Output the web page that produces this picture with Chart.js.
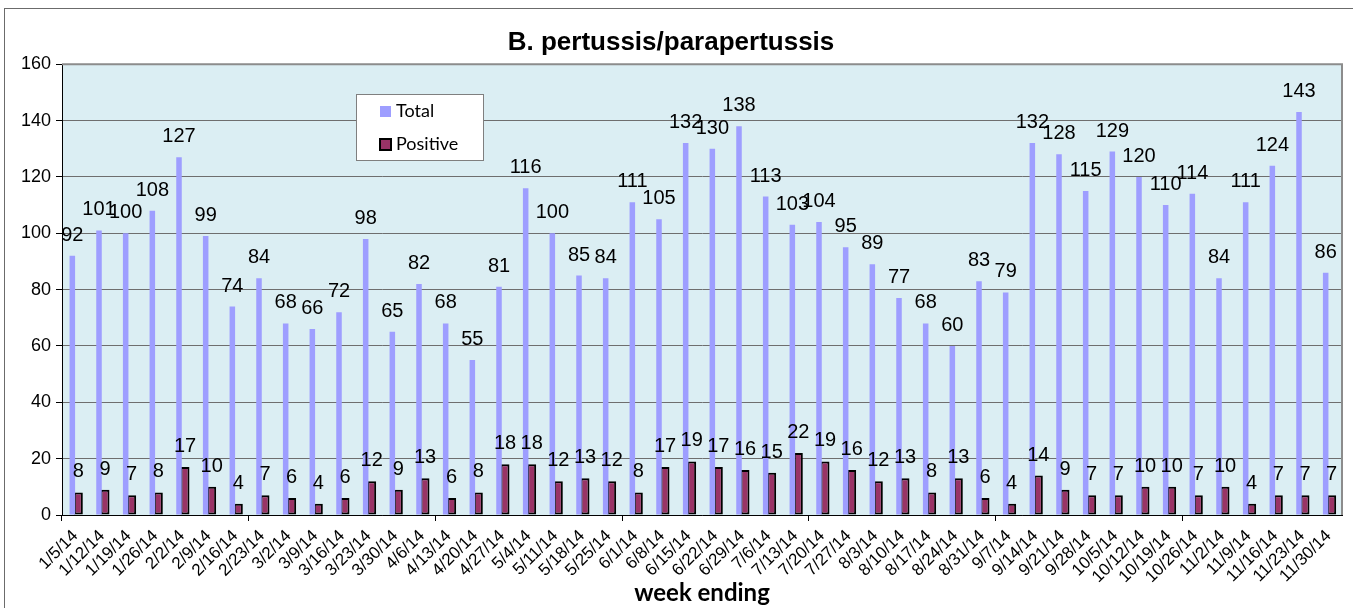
<!DOCTYPE html>
<html>
<head>
<meta charset="utf-8">
<script src="https://cdn.jsdelivr.net/npm/chart.js@4"></script>
<style>
  html, body { margin: 0; padding: 0; background: #fff; }
  canvas { display: block; }
</style>
</head>
<body>
<canvas id="chart" width="1353" height="608"></canvas>
<script>
var weeks = ['1/5/14', '1/12/14', '1/19/14', '1/26/14', '2/2/14', '2/9/14', '2/16/14', '2/23/14',
    '3/2/14', '3/9/14', '3/16/14', '3/23/14', '3/30/14', '4/6/14', '4/13/14', '4/20/14', '4/27/14',
    '5/4/14', '5/11/14', '5/18/14', '5/25/14', '6/1/14', '6/8/14', '6/15/14', '6/22/14', '6/29/14',
    '7/6/14', '7/13/14', '7/20/14', '7/27/14', '8/3/14', '8/10/14', '8/17/14', '8/24/14', '8/31/14',
    '9/7/14', '9/14/14', '9/21/14', '9/28/14', '10/5/14', '10/12/14', '10/19/14', '10/26/14',
    '11/2/14', '11/9/14', '11/16/14', '11/23/14', '11/30/14'];
var totalTests = [92, 101, 100, 108, 127, 99, 74, 84, 68, 66, 72, 98, 65, 82, 68, 55, 81, 116, 100, 85,
    84, 111, 105, 132, 130, 138, 113, 103, 104, 95, 89, 77, 68, 60, 83, 79, 132, 128, 115, 129, 120,
    110, 114, 84, 111, 124, 143, 86];
var positiveTests = [8, 9, 7, 8, 17, 10, 4, 7, 6, 4, 6, 12, 9, 13, 6, 8, 18, 18, 12, 13, 12, 8, 17, 19,
    17, 16, 15, 22, 19, 16, 12, 13, 8, 13, 6, 4, 14, 9, 7, 7, 10, 10, 7, 10, 4, 7, 7, 7];
var yTicks = [0, 20, 40, 60, 80, 100, 120, 140, 160];

var ARIAL = 'Arial, "Liberation Sans", sans-serif';
var CALIBRI = 'Lato, "Open Sans", sans-serif';

// light blue plot background + outer frame
var plotBackground = {
    id: 'plotBackground',
    beforeDraw: function(chart) {
        var ctx = chart.ctx, a = chart.chartArea;
        ctx.save();
        ctx.fillStyle = '#DBEEF3';
        ctx.fillRect(a.left, a.top, a.right - a.left, a.bottom - a.top);
        ctx.strokeStyle = '#6b6b6b';
        ctx.lineWidth = 1;
        ctx.strokeRect(4.5, 8.5, chart.width + 10, chart.height + 10);
        ctx.restore();
    },
    afterDraw: function(chart) {
        var ctx = chart.ctx, a = chart.chartArea;
        ctx.save();
        ctx.strokeStyle = '#8c8c8c';
        ctx.lineWidth = 2;
        ctx.beginPath();
        ctx.moveTo(a.left, a.top);
        ctx.lineTo(a.right, a.top);
        ctx.lineTo(a.right, a.bottom);
        ctx.stroke();
        ctx.restore();
    }
};

// value above every bar
var valueLabels = {
    id: 'valueLabels',
    afterDatasetsDraw: function(chart) {
        var ctx = chart.ctx;
        ctx.save();
        ctx.font = '20px ' + ARIAL;
        ctx.fillStyle = '#000';
        ctx.textAlign = 'center';
        ctx.textBaseline = 'alphabetic';
        chart.data.datasets.forEach(function(ds, i) {
            chart.getDatasetMeta(i).data.forEach(function(bar, j) {
                ctx.fillText(ds.data[j], bar.x, bar.y - 15);
            });
        });
        ctx.restore();
    }
};

// legend box inside the plot
var boxLegend = {
    id: 'boxLegend',
    afterDraw: function(chart) {
        var ctx = chart.ctx;
        var x = 356.5, y = 94.5, w = 127, h = 66;
        ctx.save();
        ctx.fillStyle = '#fff';
        ctx.fillRect(x, y, w, h);
        ctx.strokeStyle = '#7f7f7f';
        ctx.lineWidth = 1;
        ctx.strokeRect(x, y, w, h);
        ctx.font = '18px ' + CALIBRI;
        ctx.textBaseline = 'alphabetic';
        chart.data.datasets.forEach(function(ds, i) {
            var cy = 111 + i * 33;
            ctx.fillStyle = ds.backgroundColor;
            ctx.fillRect(380, cy - 5, 11, 11);
            if (ds.borderWidth) {
                ctx.strokeStyle = ds.borderColor;
                ctx.lineWidth = 2;
                ctx.strokeRect(380, cy - 5, 11, 11);
            }
            ctx.fillStyle = '#000';
            ctx.fillText(ds.label, 396, cy + 6);
        });
        ctx.restore();
    }
};

var chart = new Chart(document.getElementById('chart'), {
    type: 'bar',
    data: {
        labels: weeks,
        datasets: [{
            label: 'Total',
            data: totalTests,
            backgroundColor: '#9E9EFF',
            borderWidth: 0,
            barPercentage: 0.92,
            categoryPercentage: 0.45
        }, {
            label: 'Positive',
            data: positiveTests,
            backgroundColor: '#993366',
            borderColor: '#000',
            borderWidth: 2,
            borderSkipped: false,
            barPercentage: 1.5,
            categoryPercentage: 0.45
        }]
    },
    options: {
        responsive: false,
        animation: false,
        layout: { padding: { left: 0, right: 11, top: 0, bottom: 0 } },
        plugins: {
            legend: { display: false },
            tooltip: { enabled: false },
            title: {
                display: true,
                text: 'B. pertussis/parapertussis',
                color: '#000',
                font: { family: ARIAL, size: 26, weight: 'bold' },
                padding: { top: 27, bottom: 6 }
            }
        },
        scales: {
            x: {
                afterFit: function(scale) { scale.height = 93; },
                border: { color: '#000', width: 1 },
                grid: {
                    drawOnChartArea: false,
                    tickLength: 6,
                    color: function(c) { return c.index % 7 === 0 ? '#000' : 'rgba(0,0,0,0)'; }
                },
                ticks: {
                    autoSkip: false,
                    minRotation: 45,
                    maxRotation: 45,
                    padding: 5,
                    color: '#000',
                    font: { family: ARIAL, size: 17 }
                },
                title: {
                    display: true,
                    text: 'week ending',
                    color: '#000',
                    font: { family: CALIBRI, size: 24, weight: 'bold' },
                    padding: { top: 0, bottom: 0 }
                }
            },
            y: {
                min: 0,
                max: 160,
                afterFit: function(scale) { scale.width = 62; },
                afterBuildTicks: function(scale) {
                    scale.ticks = yTicks.map(function(v) { return { value: v }; });
                },
                border: { color: '#000', width: 1 },
                grid: {
                    color: '#6e6e6e',
                    tickColor: '#000',
                    tickLength: 6
                },
                ticks: {
                    padding: 5,
                    color: '#000',
                    font: { family: ARIAL, size: 18 }
                }
            }
        }
    },
    plugins: [plotBackground, valueLabels, boxLegend]
});
</script>
</body>
</html>
